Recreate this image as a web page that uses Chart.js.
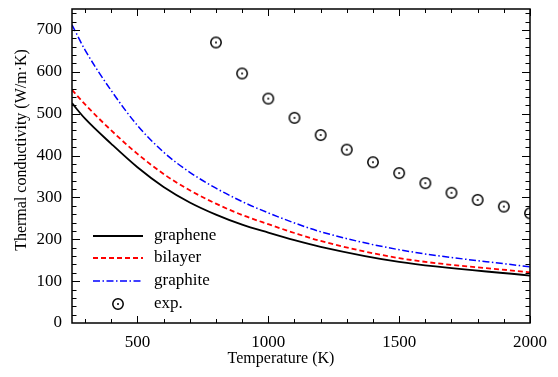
<!DOCTYPE html>
<html>
<head>
<meta charset="utf-8">
<script src="https://cdn.jsdelivr.net/npm/chart.js@4.4.1/dist/chart.umd.min.js"></script>
<style>
  body { margin: 0; background: #fff; }
  #wrap { width: 558px; height: 377px; position: relative; }
</style>
</head>
<body>
<div id="wrap"><canvas id="kChart"></canvas></div>
<script>
// ─── data ───────────────────────────────────────────────────────────────
var temps      = [250, 300, 400, 500, 600, 700, 800, 900, 1000, 1100, 1200, 1500, 2000];
var graphene   = [525, 488, 428, 372, 325, 288, 259, 235, 216, 198, 182, 146, 113];
var bilayer    = [557, 522, 460, 404, 356, 317, 285, 258, 236, 215, 196, 155, 121];
var graphite   = [712, 652, 555, 472, 408, 360, 322, 290, 263, 239, 218, 175, 134];
var expTemps   = [800, 900, 1000, 1100, 1200, 1300, 1400, 1500, 1600, 1700, 1800, 1900, 2000];
var expValues  = [670, 596, 536, 490, 449, 414, 384, 358, 334, 311, 294, 278, 262];
var xTickVals  = [500, 1000, 1500, 2000];
var yTickVals  = [0, 100, 200, 300, 400, 500, 600, 700];

var serif = '"Liberation Serif", "Times New Roman", serif';

function pairs(xs, ys) {
    return xs.map(function (x, i) { return { x: x, y: ys[i] }; });
}

// circle with a dot in the middle for the experimental points
var dotCircle = document.createElement('canvas');
dotCircle.width = 14; dotCircle.height = 14;
(function () {
    var c = dotCircle.getContext('2d');
    c.strokeStyle = '#000';
    c.lineWidth = 1.5;
    c.beginPath(); c.arc(7, 7, 5.2, 0, Math.PI * 2); c.stroke();
    c.fillStyle = '#000';
    c.beginPath(); c.arc(7, 7, 1, 0, Math.PI * 2); c.fill();
})();

// frame box + inward ticks on all four sides
var frameTicks = {
    id: 'frameTicks',
    afterDatasetsDraw: function (chart) {
        var ctx = chart.ctx, a = chart.chartArea;
        var xs = chart.scales.x, ys = chart.scales.y;
        ctx.save();
        ctx.strokeStyle = '#000';
        ctx.lineWidth = 1.5;
        ctx.strokeRect(a.left, a.top, a.right - a.left, a.bottom - a.top);
        ctx.lineWidth = 1;
        ctx.beginPath();
        for (var t = 300; t <= 2000; t += 100) {
            var len = (t % 500 === 0) ? 7 : 4;
            var px = Math.round(xs.getPixelForValue(t)) + 0.5;
            ctx.moveTo(px, a.bottom); ctx.lineTo(px, a.bottom - len);
            ctx.moveTo(px, a.top); ctx.lineTo(px, a.top + len);
        }
        for (var v = 20; v < 750; v += 20) {
            var l2 = (v % 100 === 0) ? 8 : 4.5;
            var py = Math.round(ys.getPixelForValue(v)) + 0.5;
            ctx.moveTo(a.left, py); ctx.lineTo(a.left + l2, py);
            ctx.moveTo(a.right, py); ctx.lineTo(a.right - l2, py);
        }
        ctx.stroke();
        ctx.restore();
    }
};

// legend in the lower left of the plot + axis titles
var legendTitles = {
    id: 'legendTitles',
    afterDraw: function (chart) {
        var ctx = chart.ctx;
        var items = [
            { label: 'graphene', color: '#000000', dash: [],            width: 1.8 },
            { label: 'bilayer',  color: '#ff0000', dash: [5, 3],        width: 1.8 },
            { label: 'graphite', color: '#0000ff', dash: [7, 2.5, 1.5, 2.5], width: 1.5 },
            { label: 'exp.',     marker: true }
        ];
        var rowY = [236, 258, 281, 304];
        ctx.save();
        ctx.font = '17px ' + serif;
        ctx.fillStyle = '#000';
        ctx.textBaseline = 'middle';
        items.forEach(function (it, i) {
            var y = rowY[i];
            if (it.marker) {
                ctx.drawImage(dotCircle, 118 - 7, y - 7);
            } else {
                ctx.strokeStyle = it.color;
                ctx.lineWidth = it.width;
                ctx.setLineDash(it.dash);
                ctx.beginPath(); ctx.moveTo(93, y); ctx.lineTo(143, y); ctx.stroke();
                ctx.setLineDash([]);
            }
            ctx.textAlign = 'left';
            ctx.fillText(it.label, 154, y);
        });

        ctx.font = '16px ' + serif;
        ctx.textAlign = 'center';
        ctx.fillText('Temperature (K)', 281, 359);
        ctx.translate(22, 150);
        ctx.rotate(-Math.PI / 2);
        ctx.fillText('Thermal conductivity (W/m\u00b7K)', 0, 0);
        ctx.restore();
    }
};

new Chart(document.getElementById('kChart').getContext('2d'), {
    type: 'line',
    data: {
        datasets: [
            {
                label: 'graphene',
                data: pairs(temps, graphene),
                borderColor: '#000000',
                borderWidth: 1.8,
                pointRadius: 0,
                cubicInterpolationMode: 'monotone'
            },
            {
                label: 'bilayer',
                data: pairs(temps, bilayer),
                borderColor: '#ff0000',
                borderWidth: 1.8,
                borderDash: [5, 3],
                pointRadius: 0,
                cubicInterpolationMode: 'monotone'
            },
            {
                label: 'graphite',
                data: pairs(temps, graphite),
                borderColor: '#0000ff',
                borderWidth: 1.5,
                borderDash: [7, 2.5, 1.5, 2.5],
                pointRadius: 0,
                cubicInterpolationMode: 'monotone'
            },
            {
                label: 'exp.',
                data: pairs(expTemps, expValues),
                showLine: false,
                pointStyle: dotCircle,
                pointRadius: 7
            }
        ]
    },
    options: {
        responsive: true,
        maintainAspectRatio: false,
        animation: false,
        events: [],
        layout: { padding: { top: 9, right: 28, left: 0, bottom: 0 } },
        plugins: {
            legend: { display: false },
            tooltip: { enabled: false }
        },
        scales: {
            x: {
                type: 'linear',
                min: 250,
                max: 2000,
                grid: { display: false, drawTicks: false },
                border: { display: false },
                afterFit: function (s) {
                    s.height = 54;
                    s.paddingLeft = 0;
                    s.paddingRight = 0;
                },
                afterBuildTicks: function (s) {
                    s.ticks = xTickVals.map(function (v) { return { value: v }; });
                },
                ticks: {
                    padding: 9,
                    color: '#000',
                    maxRotation: 0,
                    font: { family: serif, size: 17 },
                    callback: function (v) { return String(v); }
                }
            },
            y: {
                type: 'linear',
                min: 0,
                max: 750,
                grid: { display: false, drawTicks: false },
                border: { display: false },
                afterFit: function (s) {
                    s.width = 72;
                    s.paddingTop = 0;
                    s.paddingBottom = 0;
                },
                afterBuildTicks: function (s) {
                    s.ticks = yTickVals.map(function (v) { return { value: v }; });
                },
                ticks: {
                    padding: 10,
                    color: '#000',
                    font: { family: serif, size: 17 },
                    callback: function (v) { return String(v); }
                }
            }
        }
    },
    plugins: [frameTicks, legendTitles]
});
</script>
</body>
</html>
